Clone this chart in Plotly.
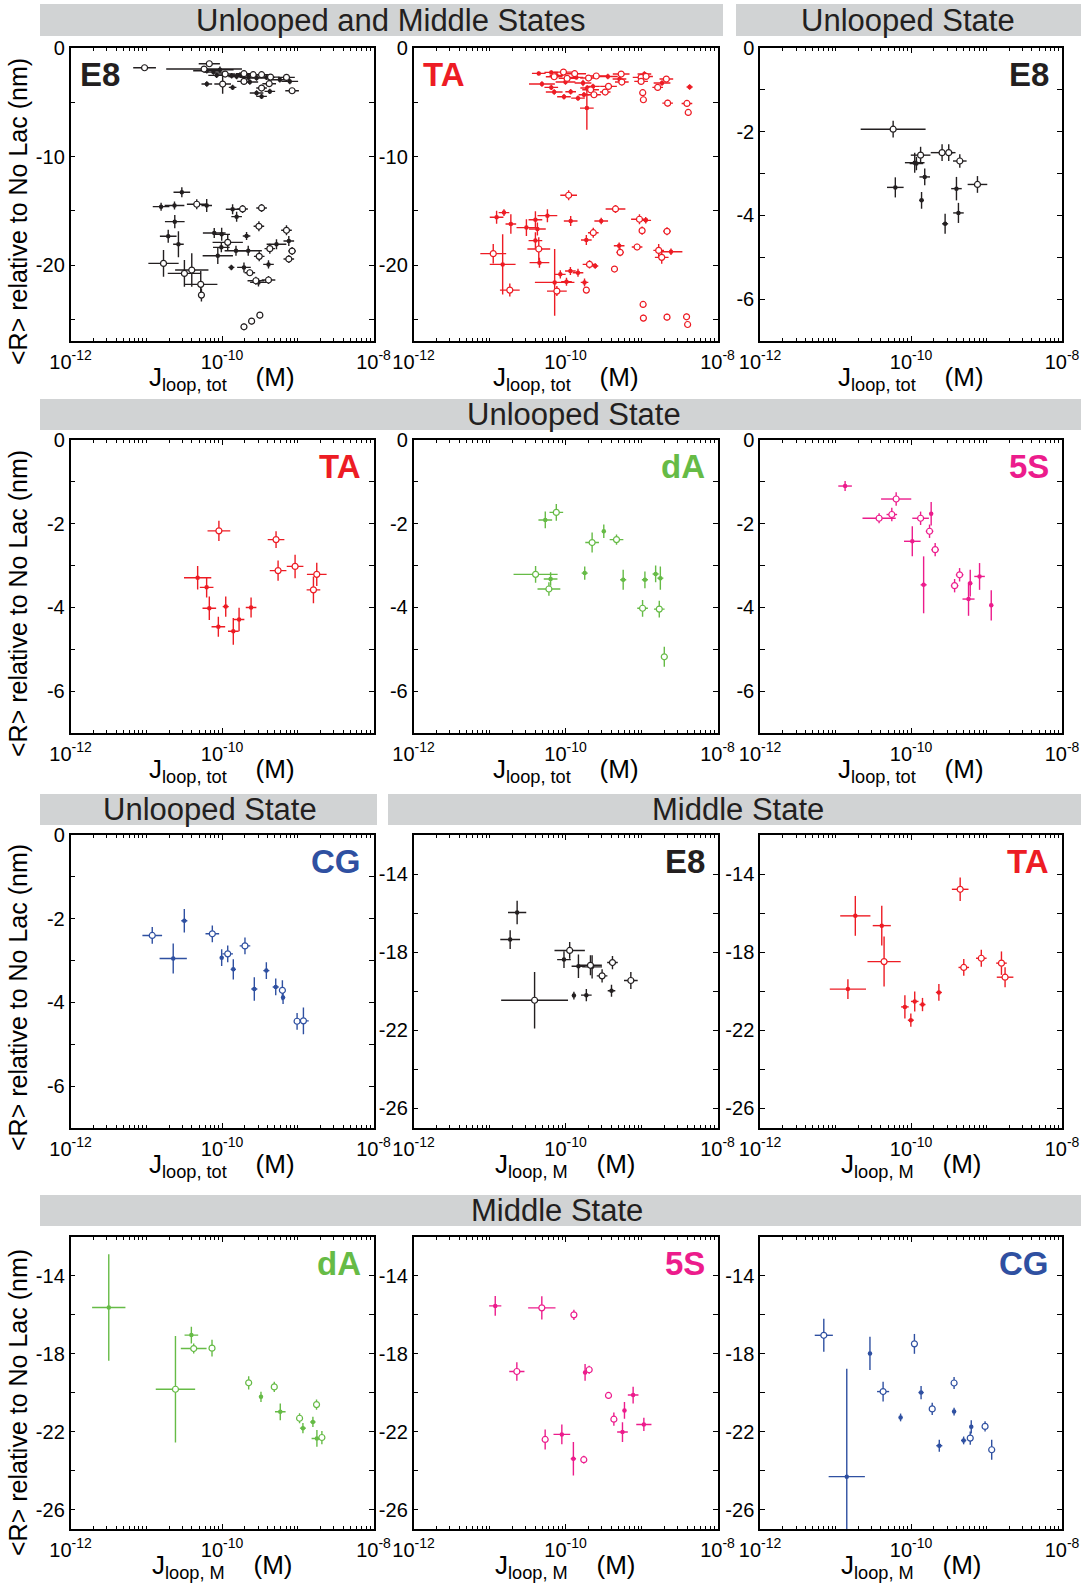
import plotly.graph_objects as go

# ---------------- data: (J in pM, <R> in nm, x half-error in decades, y error in nm, open marker) -------------
E8_both = [
    (9.5, -1.82, .15, .15, 1), (58, -1.94, .50, .25, 1), (68, -1.45, .14, .25, 1), (63, -2.09, .18, .25, 0),
    (77, -2.22, .13, .25, 0), (94, -2.00, .18, .30, 0), (85, -2.52, .11, .25, 0), (110, -2.40, .13, .25, 1),
    (134, -2.55, .13, .25, 0), (156, -2.62, .11, .25, 0), (173, -2.49, .13, .25, 0), (195, -2.37, .11, .25, 1),
    (222, -2.71, .11, .25, 0), (258, -2.46, .13, .25, 1), (286, -2.77, .11, .25, 0), (333, -2.46, .13, .25, 1),
    (387, -2.71, .11, .25, 0), (437, -2.68, .12, .25, 1), (710, -2.71, .11, .25, 1), (785, -3.08, .11, .25, 0),
    (63, -3.32, .07, .25, 0), (102, -3.32, .11, .90, 1), (138, -3.63, .05, .25, 0), (195, -3.08, .09, .25, 1),
    (333, -3.69, .07, .30, 1), (420, -3.29, .09, .30, 1), (286, -4.15, .09, .25, 0), (333, -4.46, .07, .25, 0),
    (428, -4.00, .07, .25, 0), (842, -3.94, .09, .25, 1), (233, -3.14, .11, .25, 0), (580, -2.92, .13, .25, 0),
    (29.5, -13.29, .11, .46, 0), (15.7, -14.62, .11, .37, 0), (23.6, -14.52, .13, .37, 0), (46.4, -14.40, .13, .46, 1),
    (62.8, -14.52, .07, .60, 0), (23.8, -16.00, .13, .60, 0), (19.5, -17.35, .11, .60, 0), (26.6, -18.09, .07, 1.20, 0),
    (79, -17.05, .15, .46, 0), (99, -17.17, .11, .60, 0), (119, -17.91, .20, .77, 1), (98, -18.37, .11, .46, 0),
    (88, -19.14, .20, .77, 0), (138, -14.86, .09, .46, 0), (156, -15.54, .07, .46, 0), (187, -14.83, .07, .37, 1),
    (211, -17.32, .05, .37, 0), (333, -14.74, .07, .37, 1), (307, -16.43, .07, .46, 1), (153, -18.68, .15, .46, 0),
    (222, -18.68, .18, .46, 0), (310, -19.20, .07, .46, 1), (428, -18.49, .07, .46, 1), (524, -18.09, .13, .46, 0),
    (710, -16.80, .07, .46, 1), (762, -17.78, .07, .46, 0), (842, -18.71, .05, .37, 1), (762, -19.45, .07, .37, 1),
    (16.9, -19.85, .20, 1.23, 1), (31.9, -20.77, .22, 1.23, 1), (39.9, -20.46, .22, 1.54, 1), (52.4, -21.78, .22, 1.23, 1),
    (53.5, -22.77, .04, .60, 1), (133, -20.22, .04, .25, 0), (195, -20.22, .09, .46, 0), (233, -20.71, .07, .30, 1),
    (280, -21.45, .11, .37, 1), (411, -21.38, .09, .37, 1), (303, -21.60, .11, .37, 0), (411, -19.94, .07, .37, 0),
    (195, -25.69, .04, .30, 1), (246, -25.17, .04, .30, 1), (316, -24.62, .04, .30, 1),
]

TA_both = [
    (44.5, -2.34, .09, .18, 0), (65, -2.25, .09, .18, 0), (71, -2.65, .11, .25, 1), (76, -2.52, .09, .18, 0),
    (94, -2.22, .13, .18, 1), (132, -2.37, .15, .18, 1), (105, -2.80, .11, .25, 1), (139, -2.71, .09, .18, 0),
    (100, -3.14, .13, .25, 0), (49, -3.32, .17, .25, 0), (65, -3.63, .09, .25, 0), (71, -4.06, .11, .25, 0),
    (95.5, -4.49, .09, .25, 0), (117, -4.03, .07, .25, 0), (146, -4.62, .09, .25, 0), (175, -4.31, .07, .25, 0),
    (170, -3.23, .11, .30, 0), (201, -2.77, .11, .25, 1), (193, -3.69, .09, .25, 0), (214, -3.85, .11, .25, 1),
    (230, -3.54, .09, .25, 0), (237, -4.31, .09, .25, 1), (254, -2.58, .13, .25, 1), (333, -4.06, .07, .25, 1),
    (368, -3.54, .11, .25, 1), (361, -2.62, .13, .25, 0), (540, -2.40, .11, .25, 1), (513, -2.86, .09, .25, 0),
    (551, -3.14, .09, .30, 1), (988, -2.71, .11, .30, 1), (988, -3.08, .09, .25, 1), (1092, -2.40, .09, .25, 0),
    (1148, -2.62, .09, .25, 1), (1038, -4.12, .04, .30, 1), (1059, -4.77, .04, .30, 1), (1633, -3.63, .07, .30, 1),
    (1862, -3.23, .11, .25, 0), (2123, -2.86, .09, .25, 1), (2208, -5.08, .07, .30, 1), (3963, -5.11, .07, .30, 1),
    (4121, -5.94, .04, .30, 1), (4295, -3.60, .04, .25, 0), (191, -5.54, .09, 2.00, 0),
    (110, -13.57, .11, .46, 1), (12.4, -15.60, .09, .60, 0), (15.5, -15.17, .07, .30, 0), (19.1, -16.22, .07, .90, 0),
    (30.6, -16.55, .13, .77, 0), (40.2, -15.82, .09, .77, 0), (42.7, -16.68, .11, .60, 0), (57.8, -15.45, .13, .60, 0),
    (117, -15.94, .09, .46, 0), (188, -17.69, .07, .46, 0), (232, -17.02, .07, .46, 1), (295, -15.94, .09, .30, 0),
    (455, -14.83, .13, .37, 1), (940, -15.78, .11, .46, 1), (1137, -15.88, .07, .30, 0), (1018, -16.83, .04, .37, 1),
    (2166, -16.89, .05, .37, 1), (40.2, -17.75, .09, .77, 0), (44.5, -18.52, .15, 1.08, 1), (508, -18.22, .07, .30, 0),
    (524, -18.83, .05, .37, 1), (875, -18.34, .07, .30, 1), (1683, -18.65, .07, .60, 1), (1845, -19.29, .09, .60, 1),
    (2443, -18.77, .15, .30, 0), (11.2, -18.95, .17, .90, 1), (14.9, -19.94, .17, 2.77, 0), (45.4, -19.78, .13, .46, 0),
    (207, -19.94, .09, .37, 1), (246, -20.09, .04, .25, 0), (441, -20.37, .035, .25, 1), (18.5, -22.31, .13, .60, 1),
    (72, -21.60, .26, 3.08, 0), (77, -22.40, .13, .46, 1), (85.5, -20.86, .07, .37, 0), (103, -21.54, .07, .37, 0),
    (116, -20.55, .07, .37, 0), (146, -20.71, .07, .37, 0), (178, -21.60, .05, .37, 0), (188, -22.31, .035, .25, 1),
    (1050, -23.63, .04, .30, 1), (1059, -24.89, .04, .30, 1), (2166, -24.80, .04, .30, 1), (3918, -24.77, .04, .30, 1),
    (4045, -25.48, .035, .25, 1),
]

E8_unlooped = [
    (58, -1.94, .43, .20, 1), (134, -2.56, .13, .20, 1), (112, -2.74, .13, .24, 0), (118, -2.76, .09, .16, 0),
    (152, -3.08, .07, .20, 0), (138, -3.64, .03, .20, 0), (62, -3.33, .11, .24, 0), (258, -2.50, .15, .20, 1),
    (316, -2.50, .09, .20, 1), (443, -2.70, .09, .16, 1), (400, -3.36, .07, .28, 0), (759, -3.26, .13, .20, 1),
    (425, -3.94, .07, .24, 0), (283, -4.20, .04, .24, 0),
]

TA_unlooped = [
    (91, -2.17, .15, .24, 1), (517, -2.38, .11, .20, 1), (550, -3.12, .11, .24, 1), (922, -3.02, .11, .28, 1),
    (1782, -3.21, .13, .28, 1), (1611, -3.58, .09, .32, 1), (47.7, -3.29, .18, .28, 0), (62.7, -3.52, .09, .24, 0),
    (68, -4.02, .09, .28, 0), (112, -3.98, .04, .24, 0), (89.5, -4.46, .09, .24, 0), (141, -4.57, .07, .32, 0),
    (168, -4.29, .07, .28, 0), (242, -4.00, .07, .24, 0),
]

dA_unlooped = [
    (40.4, -3.21, .29, .20, 1), (54.2, -1.91, .09, .20, 0), (75.7, -1.73, .09, .20, 1), (63.7, -3.32, .09, .16, 0),
    (60.5, -3.56, .15, .16, 1), (179, -3.18, .04, .16, 0), (224, -2.45, .09, .24, 1), (319, -2.18, .02, .16, 0),
    (469, -2.38, .09, .12, 1), (574, -3.34, .04, .24, 0), (1109, -3.34, .04, .20, 0), (1535, -3.20, .04, .20, 0),
    (1770, -3.30, .04, .28, 0), (1033, -4.02, .07, .20, 1), (1714, -4.04, .07, .20, 1), (1995, -5.18, .04, .24, 1),
]

S5_unlooped = [
    (13.4, -1.10, .09, .12, 0), (63.6, -1.41, .20, .16, 1), (37.8, -1.87, .22, .12, 1), (55.7, -1.78, .07, .16, 1),
    (134, -1.87, .11, .16, 1), (185, -1.76, .02, .28, 0), (176, -2.18, .05, .16, 1), (209, -2.62, .05, .16, 1),
    (104, -2.42, .11, .36, 0), (147, -3.46, .04, .68, 0), (378, -3.48, .05, .16, 1), (440, -3.22, .05, .16, 1),
    (609, -3.42, .02, .32, 0), (578, -3.80, .08, .40, 0), (809, -3.26, .07, .32, 0), (1156, -3.95, .02, .36, 0),
]

CG_unlooped = [
    (12, -2.40, .13, .20, 1), (22.7, -2.95, .18, .36, 0), (31.8, -2.05, .04, .28, 0), (74.5, -2.36, .09, .20, 1),
    (99, -2.93, .02, .20, 0), (119, -2.84, .07, .20, 1), (141, -3.21, .035, .24, 0), (201, -2.65, .07, .20, 1),
    (267, -3.68, .04, .28, 0), (385, -3.24, .04, .20, 0), (512, -3.63, .04, .20, 0), (627, -3.71, .04, .24, 1),
    (640, -3.88, .02, .16, 0), (980, -4.45, .04, .20, 1), (1188, -4.44, .07, .32, 1),
]

E8_middle = [
    (23.1, -15.97, .12, .60, 0), (18.7, -17.35, .13, .48, 0), (39.2, -20.46, .44, 1.45, 1), (95.5, -18.38, .09, .43, 0),
    (113.5, -17.91, .20, .43, 1), (148, -18.72, .09, .60, 0), (213, -18.67, .15, .51, 1), (224, -18.75, .13, .60, 0),
    (303, -19.21, .07, .34, 1), (415, -18.53, .07, .34, 1), (403, -19.97, .05, .31, 0), (724, -19.45, .09, .43, 1),
    (129, -20.22, .02, .20, 0), (188, -20.20, .07, .31, 0),
]

TA_middle = [
    (18.3, -16.14, .20, 1.02, 0), (41, -16.64, .12, 1.02, 0), (44, -18.48, .22, 1.28, 1), (14.6, -19.89, .24, .51, 0),
    (83, -20.80, .05, .60, 0), (99.5, -21.48, .04, .34, 0), (112, -20.52, .05, .51, 0), (142, -20.68, .04, .34, 0),
    (234, -20.06, .04, .43, 0), (448, -14.78, .11, .60, 1), (500, -18.78, .07, .43, 1), (853, -18.31, .07, .43, 1),
    (1578, -18.56, .07, .60, 1), (1762, -19.28, .11, .51, 1),
]

dA_middle = [
    (3.2, -15.62, .22, 2.74, 0), (24.3, -19.82, .26, 2.74, 1), (39.4, -17.04, .09, .43, 0), (42.3, -17.73, .17, .26, 1),
    (73.8, -17.71, .035, .43, 1), (225, -19.49, .035, .34, 1), (327, -20.21, .02, .26, 0), (490, -19.70, .035, .26, 1),
    (588, -20.98, .07, .43, 0), (1057, -21.31, .035, .26, 1), (1170, -21.82, .04, .26, 0), (1585, -21.50, .035, .26, 0),
    (1770, -20.61, .035, .26, 1), (1790, -22.35, .07, .43, 0), (2083, -22.30, .035, .34, 1),
]

S5_middle = [
    (11.9, -15.54, .08, .51, 0), (48.8, -15.64, .18, .60, 1), (129, -16.00, .04, .26, 1), (22.9, -18.91, .10, .48, 1),
    (181, -18.96, .02, .43, 0), (205, -18.82, .02, .20, 1), (368, -20.14, .02, .17, 1), (776, -20.12, .07, .43, 0),
    (433, -21.36, .02, .34, 1), (597, -20.91, .02, .43, 0), (562, -22.02, .07, .51, 0), (1074, -21.63, .10, .34, 0),
    (54, -22.40, .02, .51, 1), (89.5, -22.14, .11, .51, 0), (127, -23.39, .035, .86, 0), (174, -23.44, .02, .20, 1),
]

CG_middle = [
    (7.0, -17.05, .12, .85, 1), (14.1, -24.31, .24, 5.54, 0), (28.6, -17.98, .02, .85, 0), (42.7, -19.94, .08, .51, 1),
    (72.8, -21.27, .02, .20, 0), (111, -17.49, .02, .51, 1), (136, -19.99, .035, .34, 0), (191, -20.83, .02, .31, 1),
    (237, -22.72, .04, .31, 0), (372, -19.50, .02, .31, 1), (372, -20.97, .02, .20, 0), (498, -22.45, .035, .20, 0),
    (609, -22.33, .02, .34, 1), (628, -21.75, .02, .34, 0), (957, -21.73, .02, .26, 1), (1172, -22.93, .02, .51, 1),
]

# labelled ticks and unlabelled ticks
x_label_vals = [1e-12, 1e-10, 1e-8]
x_label_text = ["10<sup>-12</sup>", "10<sup>-10</sup>", "10<sup>-8</sup>"]
y_ticks = {
    "both": ([0, -10, -20], ["0", "-10", "-20"], [-5, -15, -25], [-27, 0]),
    "unl": ([0, -2, -4, -6], ["0", "-2", "-4", "-6"], [-1, -3, -5], [-7, 0]),
    "mid": ([-14, -18, -22, -26], ["-14", "-18", "-22", "-26"], [-16, -20, -24], [-27, -12]),
}
headers = [
    ("Unlooped and Middle States", 0), ("Unlooped State", 0),
    ("Unlooped State", 1),
    ("Unlooped State", 2), ("Middle State", 2),
    ("Middle State", 3),
]

BLACK = "#231f20"; RED = "#ed1c24"; GREEN = "#66bb46"; PINK = "#ec1c8c"; BLUE = "#2f50a1"

panels = [
    (0, 0, E8_both, BLACK, "E8", "both", "tot", "left", True),
    (0, 1, TA_both, RED, "TA", "both", "tot", "left", True),
    (0, 2, E8_unlooped, BLACK, "E8", "unl", "tot", "right", True),
    (1, 0, TA_unlooped, RED, "TA", "unl", "tot", "right", False),
    (1, 1, dA_unlooped, GREEN, "dA", "unl", "tot", "right", True),
    (1, 2, S5_unlooped, PINK, "5S", "unl", "tot", "right", True),
    (2, 0, CG_unlooped, BLUE, "CG", "unl", "tot", "right", True),
    (2, 1, E8_middle, BLACK, "E8", "mid", "M", "right", True),
    (2, 2, TA_middle, RED, "TA", "mid", "M", "right", True),
    (3, 0, dA_middle, GREEN, "dA", "mid", "M", "right", True),
    (3, 1, S5_middle, PINK, "5S", "mid", "M", "right", True),
    (3, 2, CG_middle, BLUE, "CG", "mid", "M", "right", True),
]

# ---------------- layout geometry (pixels) ----------------
W, H = 1081, 1585
ROWS = [(48, 341), (440, 733), (835, 1128), (1237, 1529)]
COLS = [(70.5, 373.5), (413.5, 717.5), (760, 1062)]
HEADER_Y = [(4, 36), (399, 430), (794, 825), (1195, 1226)]
HEADER_X = [[(40, 723), (736, 1081)], [(40, 1081)], [(40, 377), (388, 1081)], [(40, 1081)]]
HEADER_TEXT_X = [[390, 908], [574], [210, 738], [557]]
YTITLE_Y = [212, 604, 998, 1403]
FONT = "Liberation Sans, Arial, Helvetica, sans-serif"

def px(x):
    return x / W

def py(y):
    return 1 - y / H

decade_minor = [k * 10.0 ** e for e in range(-12, -8) for k in range(2, 10)]

fig = go.Figure()
layout = dict(width=W, height=H, margin=dict(l=0, r=0, t=0, b=0, autoexpand=False),
              template="none", autosize=False,
              paper_bgcolor="white", plot_bgcolor="white", showlegend=False)
annotations = []
shapes = []

for i, (r, c, data, color, label, kind, xl, lpos, show8) in enumerate(panels):
    n = i + 1
    xa = "x" if n == 1 else f"x{n}"
    ya = "y" if n == 1 else f"y{n}"
    for flag in (0, 1):
        pts = [p for p in data if p[4] == flag]
        xs = [p[0] * 1e-12 for p in pts]
        ys = [p[1] for p in pts]
        xp = [x * (10 ** p[2] - 1) for x, p in zip(xs, pts)]
        xm = [x * (1 - 10 ** (-p[2])) for x, p in zip(xs, pts)]
        ye = [p[3] for p in pts]
        fig.add_trace(go.Scatter(
            x=xs, y=ys, mode="markers", xaxis=xa, yaxis=ya, hoverinfo="skip",
            error_x=dict(type="data", symmetric=False, array=xp, arrayminus=xm,
                         color=color, thickness=1.4, width=0),
            error_y=dict(type="data", array=ye, color=color, thickness=1.4, width=0),
            marker=dict(symbol="circle", size=6 if flag else 4.5,
                        color="white" if flag else color,
                        line=dict(color=color, width=1.2 if flag else 0)),
        ))
    x0, x1 = COLS[c]
    t, b = ROWS[r]
    tv, tt, tminor, rng = y_ticks[kind]
    xv = list(x_label_vals)
    xt = list(x_label_text)
    xminor = decade_minor + [1e-11, 1e-9]
    if not show8:
        xv = xv[:-1]
        xt = xt[:-1]
        xminor = xminor + [1e-8]
    common = dict(showgrid=False, zeroline=False, showline=True, linecolor="black",
                  linewidth=1.5, mirror="ticks", ticks="inside", ticklen=5,
                  tickwidth=1, tickcolor="black", automargin=False,
                  tickfont=dict(family=FONT, size=20, color="black"))
    layout["xaxis" if n == 1 else f"xaxis{n}"] = dict(
        domain=[px(x0), px(x1)], anchor=ya, type="log", range=[-12, -8],
        tickmode="array", tickvals=xv, ticktext=xt, ticklabelstandoff=2,
        minor=dict(tickmode="array", tickvals=xminor, ticks="inside",
                   ticklen=3, tickwidth=1, tickcolor="black", showgrid=False),
        **common)
    layout["yaxis" if n == 1 else f"yaxis{n}"] = dict(
        domain=[py(b), py(t)], anchor=xa, range=rng,
        tickmode="array", tickvals=tv, ticktext=tt,
        minor=dict(tickmode="array", tickvals=tminor, ticks="inside",
                   ticklen=5, tickwidth=1, tickcolor="black", showgrid=False),
        **common)

    sub = "loop, tot" if xl == "tot" else "loop, M"
    annotations.append(dict(
        x=px((x0 + x1) / 2), y=py(b + 37), xref="paper", yref="paper",
        xanchor="center", yanchor="middle", showarrow=False,
        text=f"J<sub>{sub}</sub>&nbsp;&nbsp;&nbsp;&nbsp;(M)",
        font=dict(family=FONT, size=26, color="black")))
    if lpos == "left":
        annotations.append(dict(x=px(x0 + 7), y=py(t + 6), xref="paper", yref="paper",
                                xanchor="left", yanchor="top", showarrow=False,
                                text=f"<b>{label}</b>",
                                font=dict(family=FONT, size=33, color=color)))
    else:
        annotations.append(dict(x=px(x1 - 11), y=py(t + 6), xref="paper", yref="paper",
                                xanchor="right", yanchor="top", showarrow=False,
                                text=f"<b>{label}</b>",
                                font=dict(family=FONT, size=33, color=color)))

for r, yc in enumerate(YTITLE_Y):
    annotations.append(dict(x=px(18), y=py(yc), xref="paper", yref="paper",
                            xanchor="center", yanchor="middle", showarrow=False,
                            textangle=-90, text="&lt;R&gt; relative to No Lac (nm)",
                            font=dict(family=FONT, size=25, color="black")))

hdr_count = {}
for text, r in headers:
    k = hdr_count.get(r, 0)
    hdr_count[r] = k + 1
    hx0, hx1 = HEADER_X[r][k]
    hy0, hy1 = HEADER_Y[r]
    shapes.append(dict(type="rect", xref="paper", yref="paper",
                       x0=px(hx0), x1=px(hx1), y0=py(hy1), y1=py(hy0),
                       fillcolor="#d1d3d4", line=dict(width=0), layer="below"))
    annotations.append(dict(x=px(HEADER_TEXT_X[r][k]), y=py((hy0 + hy1) / 2),
                            xref="paper", yref="paper", xanchor="center", yanchor="middle",
                            showarrow=False, text=text,
                            font=dict(family=FONT, size=31, color=BLACK)))

layout["annotations"] = annotations
layout["shapes"] = shapes
fig.update_layout(**layout)
fig.write_html("out.html")
